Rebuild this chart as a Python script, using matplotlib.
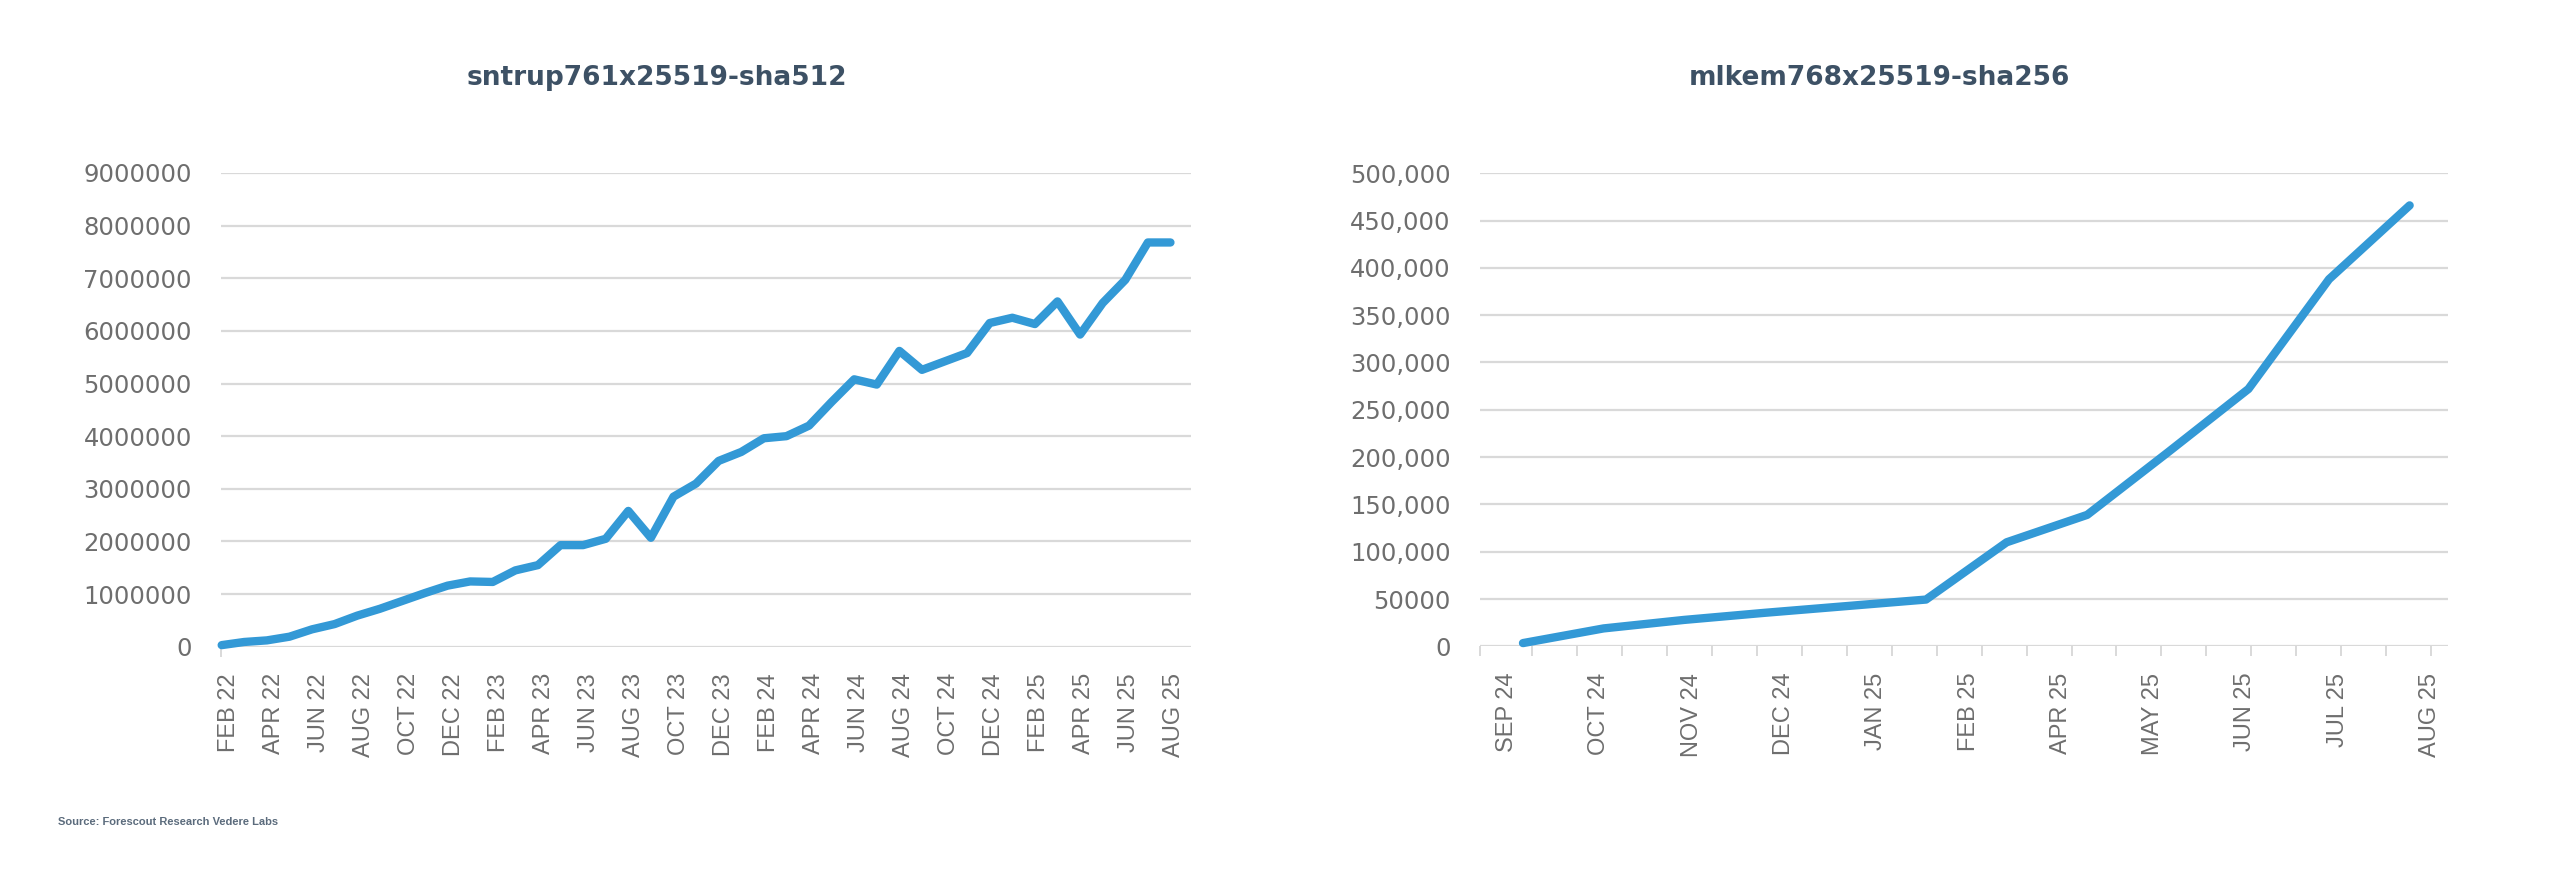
import numpy as np
import matplotlib.pyplot as plt

# sntrup761x25519-sha512, monthly FEB 22 .. AUG 25
sntrup_values = [30000, 90000, 120000, 190000, 330000, 430000, 590000, 720000,
                 870000, 1020000, 1160000, 1240000, 1230000, 1450000, 1550000,
                 1930000, 1930000, 2050000, 2580000, 2070000, 2850000, 3100000,
                 3530000, 3700000, 3960000, 4000000, 4200000, 4650000, 5080000,
                 4980000, 5620000, 5260000, 5420000, 5580000, 6150000, 6250000,
                 6130000, 6560000, 5930000, 6530000, 6970000, 7680000, 7680000]
sntrup_labels = ["FEB 22", "APR 22", "JUN 22", "AUG 22", "OCT 22", "DEC 22",
                 "FEB 23", "APR 23", "JUN 23", "AUG 23", "OCT 23", "DEC 23",
                 "FEB 24", "APR 24", "JUN 24", "AUG 24", "OCT 24", "DEC 24",
                 "FEB 25", "APR 25", "JUN 25", "AUG 25"]
sntrup_yticks = [0, 1000000, 2000000, 3000000, 4000000, 5000000,
                 6000000, 7000000, 8000000, 9000000]

# mlkem768x25519-sha256, monthly SEP 24 .. AUG 25
mlkem_values = [3500, 19000, 28000, 35500, 42500, 49500, 110000, 139000,
                205000, 272000, 388000, 466000]
mlkem_labels = ["SEP 24", "OCT 24", "NOV 24", "DEC 24", "JAN 25", "FEB 25",
                "APR 25", "MAY 25", "JUN 25", "JUL 25", "AUG 25"]
mlkem_yticks = [0, 50000, 100000, 150000, 200000, 250000, 300000, 350000,
                400000, 450000, 500000]
mlkem_ylabels = ["0", "50000", "100,000", "150,000", "200,000", "250,000",
                 "300,000", "350,000", "400,000", "450,000", "500,000"]

LINE = "#3399d6"
GRID = "#d9d9d9"
TICKTXT = "#6e6e6e"
TITLE = "#3d5165"

fig = plt.figure(figsize=(25.6, 8.74), dpi=100)


def style_axes(ax, xlim, label_pos, labels, tick_pos, yticks, ylabels, ymax):
    ax.set_xlim(*xlim)
    ax.set_ylim(0, ymax)
    for s in ax.spines.values():
        s.set_visible(False)
    ax.set_yticks(yticks)
    ax.set_yticklabels(ylabels, fontsize=17.5, color=TICKTXT, family="DejaVu Sans")
    ax.tick_params(axis="y", length=0, pad=21)
    ax.grid(axis="y", color=GRID, lw=1.6, zorder=0)
    ax.set_axisbelow(True)
    # labels on major ticks, visible tick marks on minor ticks
    ax.set_xticks(label_pos)
    ax.set_xticklabels(labels, rotation=90, fontsize=17, color=TICKTXT,
                       family="Liberation Sans")
    ax.set_xticks(tick_pos, minor=True)
    ax.tick_params(axis="x", which="major", length=0, pad=19)
    ax.tick_params(axis="x", which="minor", length=7.5, width=1.4, color=GRID)


# left chart
ax1 = fig.add_axes([0.08633, 0.26007, 0.37891, 0.54199])
x1 = np.arange(len(sntrup_values))
ax1.plot(x1, sntrup_values, color=LINE, lw=6, solid_joinstyle="round",
         solid_capstyle="round", zorder=3, clip_on=False)
lab1 = 0.34 + 1.992 * np.arange(len(sntrup_labels))
xlim1 = (-0.03, 42.91)
tick1 = np.concatenate([[xlim1[0]], lab1[1:]])
style_axes(ax1, xlim1, lab1, sntrup_labels, tick1, sntrup_yticks,
           [str(v) for v in sntrup_yticks], 9000000)

# right chart
ax2 = fig.add_axes([0.57813, 0.26041, 0.37813, 0.54142])
x2 = np.arange(len(mlkem_values))
ax2.plot(x2, mlkem_values, color=LINE, lw=6, solid_joinstyle="round",
         solid_capstyle="round", zorder=3, clip_on=False)
lab2 = -0.1985 + 1.1452 * np.arange(len(mlkem_labels))
xlim2 = (-0.533, 11.476)
tick2 = np.concatenate([[xlim2[0]], 0.113 + 0.5577 * np.arange(21)])
style_axes(ax2, xlim2, lab2, mlkem_labels, tick2, mlkem_yticks,
           mlkem_ylabels, 500000)

# titles sit over the whole chart area, y labels included
fig.text(657 / 2560, 1 - 78 / 874, "sntrup761x25519-sha512", ha="center",
         va="center", fontsize=19, fontweight="bold", color=TITLE)
fig.text(1879 / 2560, 1 - 78 / 874, "mlkem768x25519-sha256", ha="center",
         va="center", fontsize=19, fontweight="bold", color=TITLE)

fig.text(58 / 2560, 1 - 822 / 874, "Source: Forescout Research Vedere Labs",
         ha="left", va="center", fontsize=8, fontweight="bold",
         color="#5b6b7c", family="Liberation Sans")

fig.savefig("out.png", dpi=100, facecolor="white")
